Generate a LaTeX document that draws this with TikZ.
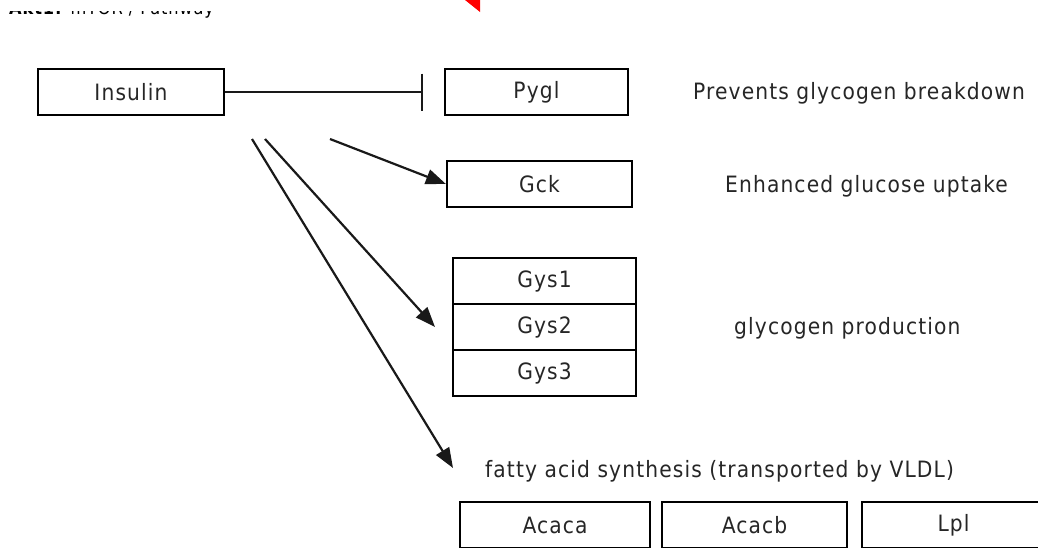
\documentclass[tikz,border=0pt]{standalone}
\usepackage{fontspec}
\setmainfont{DejaVu Sans Condensed}[LetterSpace=5]
\usetikzlibrary{arrows.meta}
\begin{document}
\begin{tikzpicture}[x=1pt,y=-1pt,
  genebox/.style={draw=black, line width=2.2pt, minimum height=46pt,
    inner sep=0pt, text=black!85, font=\fontsize{22.5}{25}\selectfont},
  note/.style={anchor=west, inner sep=0pt, text=black!85,
    font=\fontsize{22.5}{25}\selectfont},
  act/.style={draw=black!90, line width=2.2pt,
    -{Triangle[length=20pt,width=15pt]}},
  inhib/.style={draw=black!90, line width=2.2pt, -{Bar[width=37pt]}}]
\useasboundingbox (0,0) rectangle (1038,547);

% heading, mostly hidden above the top edge
\begin{scope}
  \clip (0,11.5) rectangle (400,30);
  \node[anchor=base west, inner sep=0pt, font=\fontsize{18}{20}\selectfont]
    (title) at (9,14.5) {\textbf{Akt1:} mTOR / Pathway};
\end{scope}

% red arrow tip entering from above
\fill[red] (465,0) -- (480,0) -- (480,12) -- cycle;

\begin{scope}
  \clip (0,0) rectangle (1038,547);

  % genes
  \node[genebox, minimum width=186pt] (ins)  at (131,92)    {Insulin};
  \node[genebox, minimum width=183pt] (pygl) at (536.5,92)  {Pygl};
  \node[genebox, minimum width=185pt] (gck)  at (539.5,184) {Gck};
  \node[genebox, minimum width=183pt] (gys1) at (544.5,281) {Gys1};
  \node[genebox, minimum width=183pt] (gys2) at (544.5,327) {Gys2};
  \node[genebox, minimum width=183pt] (gys3) at (544.5,373) {Gys3};
  \node[genebox, minimum width=190pt] (acaca) at (555,525)  {Acaca};
  \node[genebox, minimum width=185pt] (acacb) at (754.5,525) {Acacb};
  \node[genebox, minimum width=183pt] (lpl)  at (953.5,525) {Lpl};

  % effects
  \node[note] (n1) at (693,93)  {Prevents glycogen breakdown};
  \node[note] (n2) at (725,186) {Enhanced glucose uptake};
  \node[note] (n3) at (734,328) {glycogen production};
  \node[note] (n4) at (485,471) {fatty acid synthesis (transported by VLDL)};

  % connector ends
  \coordinate (barend) at (423,92);
  \coordinate (s1) at (330,139);
  \coordinate (s2) at (265,139);
  \coordinate (s3) at (252,139);
  \coordinate (e2) at (435,327);
  \coordinate (e3) at (453,468);

  % inhibition and activation
  \draw[inhib] (ins.east) -- (barend);
  \draw[act] (s1) -- (gck.west);
  \draw[act] (s2) -- (e2);
  \draw[act] (s3) -- (e3);
\end{scope}
\end{tikzpicture}
\end{document}
